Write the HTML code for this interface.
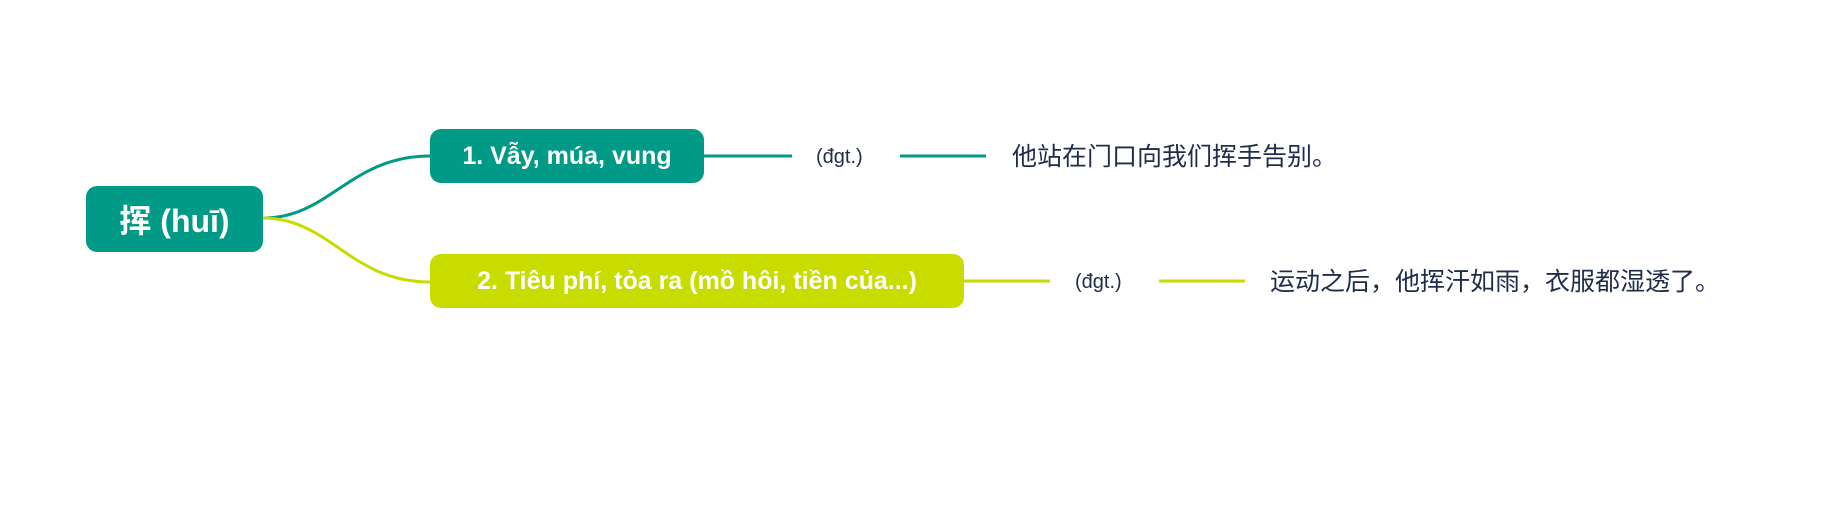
<!DOCTYPE html>
<html><head><meta charset="utf-8"><style>
body{margin:0;width:1828px;height:529px;background:#fff;position:relative;overflow:hidden;font-family:"Liberation Sans","Noto Sans CJK SC",sans-serif;}
.n{position:absolute;border-radius:11px;color:#fff;font-weight:bold;display:flex;align-items:center;justify-content:center;white-space:nowrap;}
.t{position:absolute;color:#1f2d4a;white-space:nowrap;line-height:1;}
</style></head><body>
<svg width="1828" height="529" style="position:absolute;left:0;top:0">
<path d="M263 218 C330 218,350 156,430 156" stroke="#009a86" stroke-width="3" fill="none"/>
<path d="M263 218 C330 218,350 282,430 282" stroke="#c8dc00" stroke-width="3" fill="none"/>
<line x1="704" y1="156" x2="792" y2="156" stroke="#009a86" stroke-width="3"/>
<line x1="900" y1="156" x2="986" y2="156" stroke="#009a86" stroke-width="3"/>
<line x1="964" y1="281" x2="1050" y2="281" stroke="#c8dc00" stroke-width="3"/>
<line x1="1159" y1="281" x2="1245" y2="281" stroke="#c8dc00" stroke-width="3"/>
</svg>
<div class="n" style="left:86px;top:186px;width:177px;height:66px;background:#009a86;font-size:32px;">挥 (huī)</div>
<div class="n" style="left:430px;top:129px;width:274px;height:54px;background:#009a86;font-size:25px;">1. Vẫy, múa, vung</div>
<div class="n" style="left:430px;top:254px;width:534px;height:54px;background:#c8dc00;font-size:25px;">2. Tiêu phí, tỏa ra (mồ hôi, tiền của...)</div>
<div class="t" style="left:816px;top:147px;font-size:20px;">(đgt.)</div>
<div class="t" style="left:1012px;top:145px;font-size:25px;">他站在门口向我们挥手告别。</div>
<div class="t" style="left:1075px;top:272px;font-size:20px;">(đgt.)</div>
<div class="t" style="left:1270px;top:270px;font-size:25px;">运动之后，他挥汗如雨，衣服都湿透了。</div>
</body></html>
